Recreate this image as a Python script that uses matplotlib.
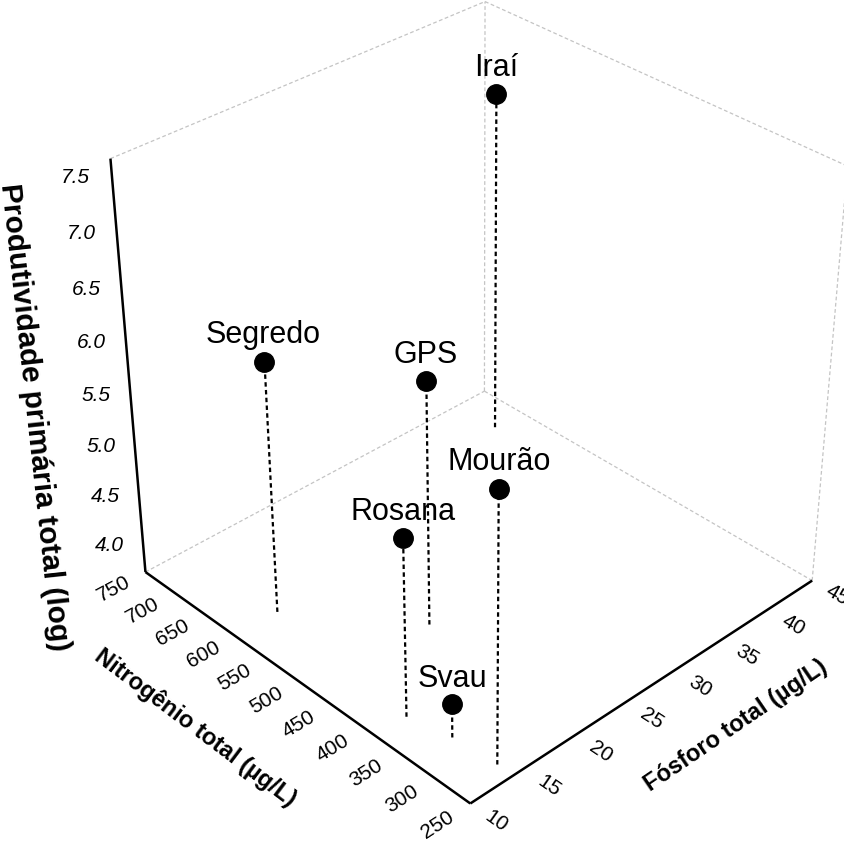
import numpy as np
import matplotlib.pyplot as plt

plt.rcParams['font.family'] = ['Liberation Sans', 'DejaVu Sans']

# reservoirs: total nitrogen, total phosphorus (ug/L) and primary productivity (log)
lakes = ['Iraí', 'Segredo', 'GPS', 'Mourão', 'Rosana', 'Svau']
nitrogen = [688, 601, 476, 272, 385, 331]
phosphorus = [42.0, 14.0, 21.0, 14.0, 12.9, 13.7]
productivity = [7.09, 6.17, 6.10, 6.31, 5.46, 4.06]

n_ticks = [250, 300, 350, 400, 450, 500, 550, 600, 650, 700, 750]
p_ticks = [10, 15, 20, 25, 30, 35, 40, 45]
z_ticks = [4.0, 4.5, 5.0, 5.5, 6.0, 6.5, 7.0, 7.5]

n_lo, n_hi = 250, 750
p_lo, p_hi = 10, 45
z_lo, z_hi = 3.72, 7.66

fig = plt.figure(figsize=(8.44, 8.41), dpi=100)
ax = fig.add_axes([0.053, 0.035, 1.0, 1.0], projection='3d',
                  proj_type='persp', focal_length=0.6)
ax.view_init(elev=33.5, azim=-133.8)
ax.set_box_aspect((1, 1, 1.0), zoom=0.99)
ax.set_xlim(p_lo, p_hi)
ax.set_ylim(n_lo, n_hi)
ax.set_zlim(z_lo, z_hi)
ax.set_axis_off()
ax.computed_zorder = False

# x = phosphorus, y = nitrogen
def edge(a, b, **kw):
    ax.plot([a[0], b[0]], [a[1], b[1]], [a[2], b[2]], **kw)

back = dict(color='#c4c4c4', lw=0.9, ls=(0, (3, 2)), zorder=1)
front = dict(color='black', lw=1.8, zorder=2, solid_capstyle='butt')

# hidden edges of the box
edge((p_lo, n_hi, z_hi), (p_hi, n_hi, z_hi), **back)
edge((p_hi, n_hi, z_hi), (p_hi, n_lo, z_hi), **back)
edge((p_hi, n_hi, z_lo), (p_hi, n_hi, z_hi), **back)
edge((p_lo, n_hi, z_lo), (p_hi, n_hi, z_lo), **back)
edge((p_hi, n_hi, z_lo), (p_hi, n_lo, z_lo), **back)
edge((p_hi, n_lo, z_lo), (p_hi, n_lo, z_hi), **back)

# axis lines
edge((p_lo, n_lo, z_lo), (p_lo, n_hi, z_lo), **front)
edge((p_lo, n_lo, z_lo), (p_hi, n_lo, z_lo), **front)
edge((p_lo, n_hi, z_lo), (p_lo, n_hi, z_hi), **front)

# drop lines, points and names
for name, n, p, z in zip(lakes, nitrogen, phosphorus, productivity):
    ax.plot([p, p], [n, n], [z_lo, z], color='black', lw=1.6,
            ls=(0, (2, 1.5)), zorder=3)
    ax.plot([p], [n], [z], 'o', color='black', ms=14, zorder=4)
    ax.text(p, n, z + 0.17, name, ha='center', va='baseline',
            fontsize=22, zorder=5)

# tick labels lying in the planes of the box
for t in n_ticks:
    ax.text(p_lo - 3.0, t, z_lo, str(t), zdir='x', ha='center', va='center',
            fontsize=15, zorder=5)
for t in p_ticks:
    ax.text(t, n_lo - 35, z_lo, str(t), zdir='y', ha='center',
            va='center', fontsize=15, zorder=5)
for t in z_ticks:
    ax.text(p_lo - 1.77, n_hi + 24.5, t, f'{t:.1f}', ha='center', va='center',
            fontsize=15, style='italic', zorder=5)

ax.text(p_lo - 8.4, 517, z_lo, 'Nitrogênio total (µg/L)', zdir='y',
        ha='center', va='center', fontsize=17, fontweight='bold', zorder=5)
ax.text(28.7, n_lo - 100, z_lo, 'Fósforo total (µg/L)', zdir='x',
        ha='center', va='center', fontsize=17, fontweight='bold', zorder=5)
ax.text(p_lo - 5.0, n_hi + 70, 5.28,
        'Produtividade primária total (log)', zdir='z',
        ha='center', va='center', fontsize=21.5, fontweight='bold', zorder=5)

fig.savefig('out.png', dpi=100)
